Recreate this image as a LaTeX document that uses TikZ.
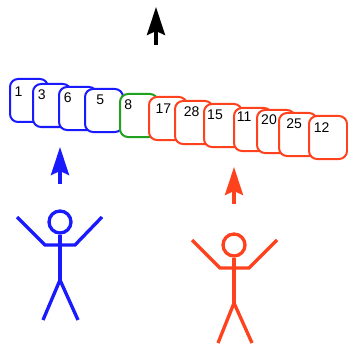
\documentclass[tikz,border=0pt]{standalone}
\usepackage{fontspec}
\setmainfont{Liberation Sans}
\usetikzlibrary{arrows.meta}
\definecolor{pblue}{RGB}{26,26,255}
\definecolor{pgreen}{RGB}{34,160,34}
\definecolor{pred}{RGB}{255,66,30}
\begin{document}
\begin{tikzpicture}[x=0.75pt,y=-0.75pt,
  card/.style={draw=#1, fill=white, line width=1.5pt, rounded corners=6pt,
    minimum width=28.5pt, minimum height=32.25pt, inner sep=0pt, anchor=north west},
  num/.style={inner sep=0pt, font=\fontsize{10.5}{12}\selectfont},
  limb/.style={draw=#1, line width=2.5pt},
  uparrow/.style={draw=#1, fill=#1, line width=2.6pt,
    -{Stealth[length=21pt,width=13.5pt,inset=3pt]}}
]
\useasboundingbox (0,0) rectangle (348,345);

% cards, later ones overlapping earlier ones
\node[card=pblue]  (c1)  at (9,78)    {};
\node[num] (t1)  at (18.5,91.7)  {1};
\node[card=pblue]  (c3)  at (32,83)   {};
\node[num] (t3)  at (41.7,94.7)  {3};
\node[card=pblue]  (c6)  at (58,86)   {};
\node[num] (t6)  at (67.8,97.3)  {6};
\node[card=pblue]  (c5)  at (84,88)   {};
\node[num] (t5)  at (100.3,99.3) {5};
\node[card=pgreen] (c8)  at (119,93)  {};
\node[num] (t8)  at (128.2,104.5) {8};
\node[card=pred]   (c17) at (148,96)  {};
\node[num] (t17) at (163.3,108.3) {17};
\node[card=pred]   (c28) at (174,100) {};
\node[num] (t28) at (191.7,111.7) {28};
\node[card=pred]   (c15) at (203,103) {};
\node[num] (t15) at (215,114.3) {15};
\node[card=pred]   (c11) at (233,107) {};
\node[num] (t11) at (244.2,116.7) {11};
\node[card=pred]   (c20) at (256,109) {};
\node[num] (t20) at (269,119.3) {20};
\node[card=pred]   (c25) at (278,112) {};
\node[num] (t25) at (294.2,124) {25};
\node[card=pred]   (c12) at (308,115) {};
\node[num] (t12) at (321.7,127.3) {12};

% upward arrows
\coordinate (kS) at (156,45);
\coordinate (kT) at (156,7);
\draw[uparrow=black] (kS) -- (kT);
\coordinate (bS) at (60,184);
\coordinate (bT) at (60,147);
\draw[uparrow=pblue] (bS) -- (bT);
\coordinate (rS) at (234,204);
\coordinate (rT) at (234,167);
\draw[uparrow=pred] (rS) -- (rT);

% blue stick figure
\node[limb=pblue, circle, minimum size=16.5pt, inner sep=0pt] (bhead) at (60,222) {};
\coordinate (bhip) at (60,280);
\draw[limb=pblue] (bhead.south) -- (bhip);
\draw[limb=pblue] (17,217) -- (45,245) -- (75,245) -- (102,217);
\draw[limb=pblue] (43,320) -- (bhip) -- (78,320);

% red stick figure
\node[limb=pred, circle, minimum size=16.5pt, inner sep=0pt] (rhead) at (234,245) {};
\coordinate (rhip) at (234,303);
\draw[limb=pred] (rhead.south) -- (rhip);
\draw[limb=pred] (192,240) -- (220,268) -- (249,268) -- (277,240);
\draw[limb=pred] (218,343) -- (rhip) -- (252,343);
\end{tikzpicture}
\end{document}
